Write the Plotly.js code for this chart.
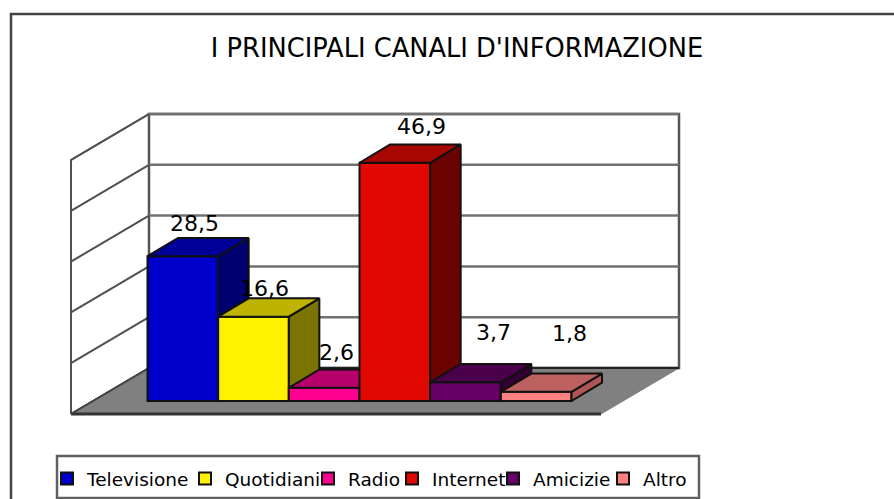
<!DOCTYPE html>
<html><head><meta charset="utf-8">
<script src="https://cdn.plot.ly/plotly-3.0.1.min.js"></script>
<style>html,body{margin:0;padding:0;background:#fff;overflow:hidden}</style>
</head><body><div id="chart" style="width:894px;height:499px"></div>
<script>
// ---- data ----
var categories = ["Televisione","Quotidiani","Radio","Internet","Amicizie","Altro"];
var values = [28.5,16.6,2.6,46.9,3.7,1.8];
var wallTicks = [0,10,20,30,40,50];
// ---- styles ----
var frontColors = ["#0000cc","#fff200","#ff0090","#e00800","#660066","#ff8080"];
var topColors   = ["#000099","#bdb300","#b8006a","#a80600","#4a004a","#bd6060"];
var sideColors  = ["#000070","#7a7500","#8a0050","#6b0400","#330033","#b05555"];
var labelNudgeX = [12,11,12,27,28,33];
var labelNudgeY = [33,28,35,36,50,58];
var legendTextPx = [87,225,348,432,533,643];
// ---- scales ----
var W=894,H=499, uX=70.67, uY=5.08, x0Px=147.5, basePx=401;
var xRange=[-0.5-x0Px/uX, -0.5+(W-x0Px)/uX];
var yRange=[-(H-basePx)/uY, basePx/uY];
// oblique projection (data units)
var barDX=30.5/uX, barDY=18.3/uY;
var wallDX=78/uX, wallDY=46/uY, wallW=530/uX;
var wallL=(71-x0Px)/uX-0.5, wallV0=(basePx-414)/uY;
function poly(xs,ys,fill,lw,lc,ya){return {type:"scatter",mode:"lines",x:xs,y:ys,fill:fill?"toself":"none",fillcolor:fill||undefined,
  line:{color:lc,width:lw},showlegend:false,hoverinfo:"skip",yaxis:ya||"y"};}
var traces=[];
// left wall and back wall
var hiV=wallV0+50;
traces.push(poly([wallL,wallL+wallDX,wallL+wallDX,wallL,wallL],[wallV0,wallV0+wallDY,hiV+wallDY,hiV,wallV0],"#ffffff",2,"#505050"));
traces.push(poly([wallL+wallDX,wallL+wallDX+wallW,wallL+wallDX+wallW,wallL+wallDX,wallL+wallDX],[wallV0+wallDY,wallV0+wallDY,hiV+wallDY,hiV+wallDY,wallV0+wallDY],"#ffffff",2.5,"#555555"));
wallTicks.forEach(function(t){
  var v=wallV0+t+wallDY;
  traces.push(poly([wallL+wallDX,wallL+wallDX+wallW],[v,v],null,2.5,"#707070"));
  traces.push(poly([wallL,wallL+wallDX],[wallV0+t,v],null,2,"#505050"));
});
// floor
traces.push(poly([wallL,wallL+wallW,wallL+wallW+wallDX,wallL+wallDX,wallL],[wallV0,wallV0,wallV0+wallDY,wallV0+wallDY,wallV0],"#808080",1,"#808080"));
traces.push(poly([wallL+wallDX,wallL+wallDX+wallW],[wallV0+wallDY,wallV0+wallDY],null,2,"#222222"));
traces.push(poly([wallL,wallL+wallW],[wallV0,wallV0],null,3,"#333333"));
traces.push(poly([wallL,wallL+wallDX],[wallV0,wallV0+wallDY],null,2,"#444444"));
// bars, each on its own overlaid axis so they paint left to right
var layoutAxes={}, anns=[];
categories.forEach(function(c,i){
  var id="y"+(i+2), v=values[i];
  layoutAxes["yaxis"+(i+2)]={overlaying:"y",range:yRange,visible:false,fixedrange:true};
  traces.push({type:"bar",x:[i],y:[v],width:1,name:c,yaxis:id,legend:i===0?"legend":"legend"+(i+1),
    marker:{color:frontColors[i],line:{color:"#111111",width:2}},hoverinfo:"x+y"});
  traces.push(poly([i+.5,i+.5+barDX,i+.5+barDX,i+.5,i+.5],[0,barDY,v+barDY,v,0],sideColors[i],2,"#111111",id));
  traces.push(poly([i-.5,i-.5+barDX,i+.5+barDX,i+.5,i-.5],[v,v+barDY,v+barDY,v,v],topColors[i],2,"#111111",id));
  anns.push({x:i,y:v,xref:"x",yref:"y",xanchor:"center",yanchor:"middle",showarrow:false,xshift:labelNudgeX[i],yshift:labelNudgeY[i],
    text:String(v).replace(".",","),font:{family:"DejaVu Sans",size:22,color:"#000"}});
});
var layout={width:W,height:H,margin:{l:0,r:0,t:0,b:0,pad:0},paper_bgcolor:"#fff",plot_bgcolor:"rgba(0,0,0,0)",
  title:{text:"I PRINCIPALI CANALI D'INFORMAZIONE",x:457/W,xanchor:"center",y:1-48/H,yanchor:"middle",font:{family:"DejaVu Sans",size:25.7,color:"#000"}},
  xaxis:{range:xRange,visible:false,fixedrange:true},
  yaxis:{range:yRange,visible:false,fixedrange:true},
  barmode:"overlay",annotations:anns,showlegend:true,
  shapes:[
   {type:"rect",xref:"paper",yref:"paper",x0:11/W,x1:910/W,y0:1-14/H,y1:-20/H,line:{color:"#444444",width:2.5},layer:"below"},
   {type:"rect",xref:"paper",yref:"paper",x0:57/W,x1:699/W,y0:1-456/H,y1:1-498/H,line:{color:"#606060",width:2.5},fillcolor:"#fff",layer:"below"}
  ]};
Object.keys(layoutAxes).forEach(function(k){layout[k]=layoutAxes[k];});
categories.forEach(function(c,i){
  var key=i===0?"legend":"legend"+(i+1);
  layout[key]={x:(legendTextPx[i]-40)/W,y:1-460/H,xanchor:"left",yanchor:"top",bgcolor:"rgba(0,0,0,0)",borderwidth:0,itemwidth:30,
    font:{family:"DejaVu Sans",size:18.5,color:"#000"},itemclick:false,itemdoubleclick:false,orientation:"v",tracegroupgap:0};
});
Plotly.newPlot("chart",traces,layout,{displayModeBar:false,staticPlot:true});
</script></body></html>
